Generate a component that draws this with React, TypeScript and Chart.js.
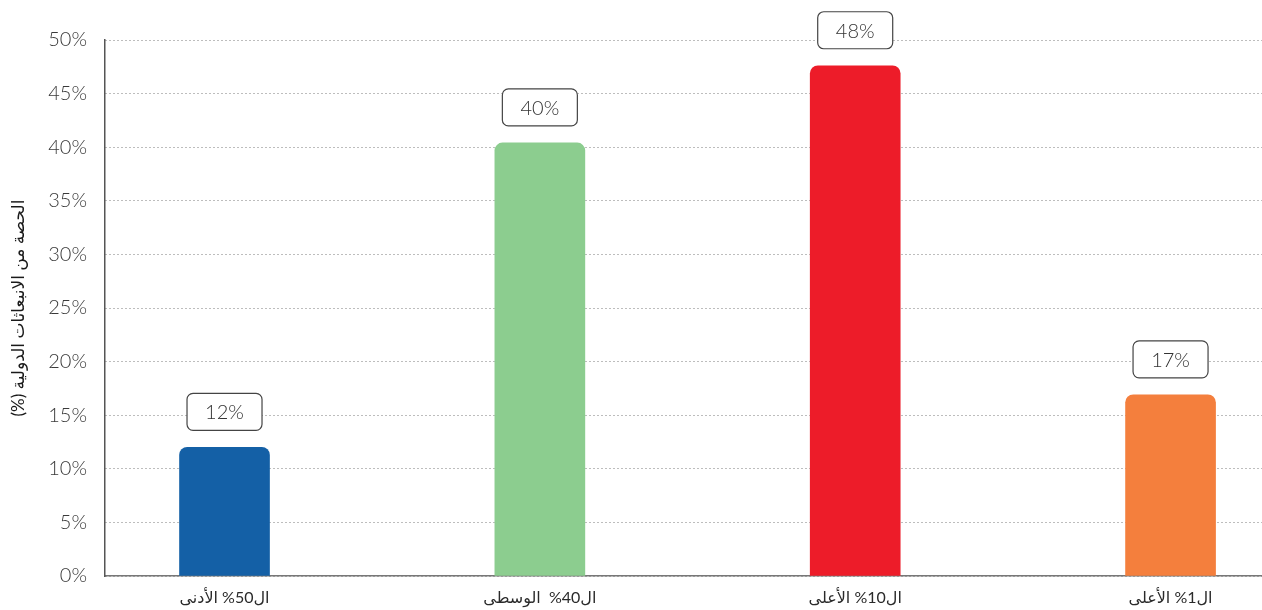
import React, { useEffect, useRef } from "react";
import { Chart, registerables } from "chart.js";

Chart.register(...registerables);

const categories = ["ال50% الأدنى", "ال40%  الوسطى", "ال10% الأعلى", "ال1% الأعلى"];
const shares = [12, 40.4, 47.6, 16.9];
const barColors = ["#1460a6", "#8ccd8f", "#ed1c29", "#f47f3d"];
const yTicks = [0, 5, 10, 15, 20, 25, 30, 35, 40, 45, 50];
const yTitle = "الحصة من الانبعاثات الدولية (%)";

const FONT = "Lato, 'DejaVu Sans', sans-serif";

const labelBoxes = {
  id: "labelBoxes",
  afterDatasetsDraw(chart: any) {
    const ctx = chart.ctx;
    const meta = chart.getDatasetMeta(0);
    meta.data.forEach((el: any, i: number) => {
      const w = 75;
      const h = 37;
      const x = el.x - w / 2;
      const y = el.y - 17 - h;
      ctx.save();
      ctx.beginPath();
      ctx.roundRect(x, y, w, h, 6);
      ctx.fillStyle = "#ffffff";
      ctx.fill();
      ctx.lineWidth = 1.2;
      ctx.strokeStyle = "#444444";
      ctx.stroke();
      ctx.fillStyle = "#333333";
      ctx.font = "300 20px " + FONT;
      ctx.textAlign = "center";
      ctx.textBaseline = "middle";
      ctx.fillText(Math.round(shares[i]) + "%", el.x, y + h / 2 + 1);
      ctx.restore();
    });
  },
};

export default function App() {
  const ref = useRef<HTMLCanvasElement>(null);
  useEffect(() => {
    if (!ref.current) return;
    const chart = new Chart(ref.current, {
      type: "bar",
      data: {
        datasets: [
          {
            data: shares.map((v, i) => ({ x: i, y: v })),
            backgroundColor: barColors,
            borderRadius: 8,
            barThickness: 90,
          },
        ],
      },
      options: {
        animation: false,
        responsive: true,
        maintainAspectRatio: false,
        layout: { padding: { top: 40, left: 0, right: 0, bottom: 0 } },
        plugins: { legend: { display: false }, tooltip: { enabled: false } },
        scales: {
          x: {
            type: "linear",
            offset: false,
            bounds: "data",
            min: -0.379,
            max: 3.29,
            grid: { display: false },
            border: { display: true, color: "#777777", width: 1.5 },
            afterBuildTicks: (axis: any) => {
              axis.ticks = categories.map((_, i) => ({ value: i }));
            },
            afterFit: (axis: any) => {
              axis.height = 34;
            },
            ticks: {
              padding: 4,
              maxRotation: 0,
              autoSkip: false,
              color: "#2a2a2a",
              font: { family: FONT, size: 16 },
              callback: (v: any) => categories[v] ?? "",
            },
          },
          y: {
            min: 0,
            max: 50,
            afterBuildTicks: (axis: any) => {
              axis.ticks = yTicks.map((v) => ({ value: v }));
            },
            afterFit: (axis: any) => {
              axis.width = 105;
            },
            grid: { color: "#7a7a7a", lineWidth: 1, drawTicks: false },
            border: { display: true, color: "#555555", width: 1.5, dash: [1, 3] },
            ticks: {
              padding: 18,
              color: "#3a3a3a",
              font: { family: FONT, size: 20, weight: "300" as any },
              callback: (v: any) => v + "%",
            },
            title: {
              display: true,
              text: yTitle,
              color: "#1a1a1a",
              font: { family: FONT, size: 17, weight: "normal" },
              padding: { top: 8, bottom: 0 },
            },
          },
        },
      },
      plugins: [labelBoxes],
    });
    return () => chart.destroy();
  }, []);
  return (
    <div style={{ position: "fixed", left: 0, top: 0, width: 1262, height: 610, background: "#fff" }}>
      <canvas ref={ref} dir="rtl" />
    </div>
  );
}
